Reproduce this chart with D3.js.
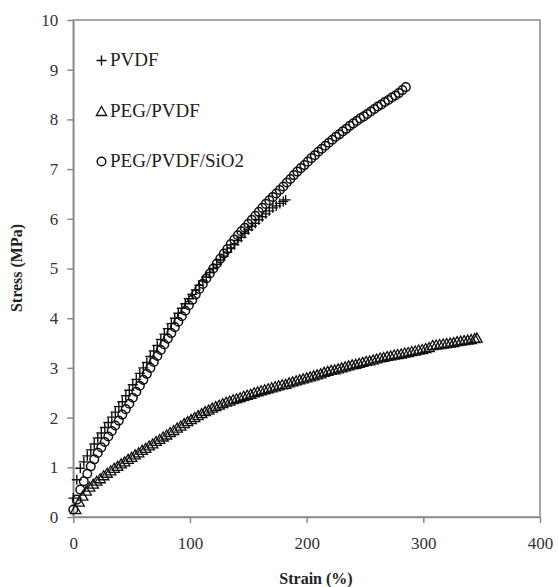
<!DOCTYPE html>
<html><head><meta charset="utf-8">
<script src="https://cdn.jsdelivr.net/npm/d3@7"></script>
<style>body{margin:0;background:#fff}svg{display:block}</style>
</head><body><svg id="c" width="558" height="587"></svg>
<script>
const xTicks=[0,100,200,300,400];
const yTicks=[0,1,2,3,4,5,6,7,8,9,10];
const seriesNames=["PVDF","PEG/PVDF","PEG/PVDF/SiO2"];
const pvdf=[[0,0.38],[3,0.75],[6,0.98],[9,1.11],[12,1.23],[15,1.35],[18,1.47],[21,1.59],[24,1.69],[27,1.80],[30,1.90],[33,2.01],[36,2.11],[39,2.22],[42,2.32],[45,2.44],[48,2.55],[51,2.66],[54,2.77],[57,2.89],[60,3.00],[63,3.11],[66,3.23],[69,3.34],[72,3.45],[75,3.57],[78,3.68],[81,3.79],[84,3.89],[87,4.00],[90,4.10],[93,4.20],[96,4.29],[99,4.39],[102,4.48],[105,4.57],[108,4.66],[111,4.75],[114,4.83],[117,4.92],[120,5.00],[123,5.08],[126,5.17],[129,5.25],[132,5.33],[135,5.41],[138,5.48],[141,5.56],[144,5.63],[147,5.71],[150,5.78],[153,5.85],[156,5.91],[159,5.98],[162,6.04],[165,6.10],[168,6.16],[171,6.22],[174,6.26],[177,6.31],[180,6.35],[182,6.38]];
const pegPvdf=[[2,0.15],[5,0.30],[8,0.42],[11,0.52],[14,0.60],[17,0.66],[20,0.72],[23,0.77],[26,0.83],[29,0.88],[32,0.93],[35,0.98],[38,1.02],[41,1.07],[44,1.11],[47,1.16],[50,1.20],[53,1.25],[56,1.29],[59,1.34],[62,1.38],[65,1.43],[68,1.47],[71,1.52],[74,1.56],[77,1.61],[80,1.65],[83,1.70],[86,1.74],[89,1.79],[92,1.83],[95,1.88],[98,1.92],[101,1.96],[104,2.00],[107,2.04],[110,2.08],[113,2.12],[116,2.15],[119,2.19],[122,2.22],[125,2.25],[128,2.28],[131,2.31],[134,2.33],[137,2.36],[140,2.38],[143,2.40],[146,2.43],[149,2.45],[152,2.47],[155,2.50],[158,2.52],[161,2.54],[164,2.56],[167,2.58],[170,2.60],[173,2.62],[176,2.64],[179,2.66],[182,2.67],[185,2.70],[188,2.72],[191,2.74],[194,2.76],[197,2.78],[200,2.80],[203,2.82],[206,2.84],[209,2.86],[212,2.88],[215,2.91],[218,2.93],[221,2.95],[224,2.96],[227,2.98],[230,3.00],[233,3.02],[236,3.04],[239,3.06],[242,3.07],[245,3.09],[248,3.11],[251,3.13],[254,3.14],[257,3.16],[260,3.18],[263,3.20],[266,3.21],[269,3.23],[272,3.24],[275,3.26],[278,3.27],[281,3.28],[284,3.30],[287,3.31],[290,3.33],[293,3.34],[296,3.36],[299,3.37],[302,3.39],[305,3.41],[308,3.45],[311,3.46],[314,3.47],[317,3.48],[320,3.49],[323,3.50],[326,3.51],[329,3.53],[332,3.54],[335,3.55],[338,3.56],[341,3.57],[344,3.59],[346,3.60]];
const pegPvdfSio2=[[0,0.15],[3,0.35],[6,0.55],[9,0.72],[12,0.87],[15,1.02],[18,1.16],[21,1.29],[24,1.40],[27,1.51],[30,1.62],[33,1.73],[36,1.84],[39,1.94],[42,2.06],[45,2.17],[48,2.28],[51,2.40],[54,2.52],[57,2.64],[60,2.76],[63,2.88],[66,3.00],[69,3.12],[72,3.24],[75,3.36],[78,3.47],[81,3.59],[84,3.70],[87,3.82],[90,3.93],[93,4.04],[96,4.15],[99,4.26],[102,4.37],[105,4.48],[108,4.59],[111,4.69],[114,4.80],[117,4.90],[120,5.00],[123,5.10],[126,5.20],[129,5.30],[132,5.39],[135,5.49],[138,5.58],[141,5.67],[144,5.75],[147,5.82],[150,5.90],[153,5.98],[156,6.06],[159,6.14],[162,6.22],[165,6.30],[168,6.37],[171,6.44],[174,6.51],[177,6.58],[180,6.65],[183,6.73],[186,6.80],[189,6.88],[192,6.95],[195,7.02],[198,7.08],[201,7.15],[204,7.22],[207,7.28],[210,7.35],[213,7.41],[216,7.47],[219,7.53],[222,7.59],[225,7.65],[228,7.70],[231,7.76],[234,7.81],[237,7.87],[240,7.92],[243,7.97],[246,8.02],[249,8.06],[252,8.11],[255,8.16],[258,8.21],[261,8.26],[264,8.30],[267,8.35],[270,8.39],[273,8.44],[276,8.48],[279,8.53],[282,8.59],[285,8.65]];

const svg=d3.select("#c");
const L=73.3,R=540,T=20,B=517;
const x=d3.scaleLinear().domain([0,400]).range([L,R]);
const y=d3.scaleLinear().domain([0,10]).range([B,T]);
const axisCol="#8a8a8a", font="'Liberation Serif','Times New Roman',serif";

svg.append("rect").attr("x",L).attr("y",T).attr("width",R-L).attr("height",B-T)
  .attr("fill","none").attr("stroke",axisCol).attr("stroke-width",1.5);

const gx=svg.append("g").attr("transform",`translate(0,${B})`)
  .call(d3.axisBottom(x).tickValues(xTicks).tickSize(6).tickPadding(14).tickSizeOuter(0));
const gy=svg.append("g").attr("transform",`translate(${L},0)`)
  .call(d3.axisLeft(y).tickValues(yTicks).tickSize(6).tickPadding(9).tickSizeOuter(0));
[gx,gy].forEach(g=>{
  g.select(".domain").attr("stroke",axisCol).attr("stroke-width",1.5);
  g.selectAll(".tick line").attr("stroke",axisCol).attr("stroke-width",1.5);
  g.selectAll(".tick text").attr("fill","#333").style("font-family",font).style("font-size","17px");
});

svg.append("text").attr("x",316).attr("y",584).attr("text-anchor","middle")
  .style("font-family",font).style("font-size","16px").style("font-weight","bold").attr("fill","#222").text("Strain (%)");
svg.append("text").attr("transform","translate(22,268) rotate(-90)").attr("text-anchor","middle")
  .style("font-family",font).style("font-size","16px").style("font-weight","bold").attr("fill","#222").text("Stress (MPa)");

const stroke="#111";
function plus(g,cx,cy,s){s=s||5;g.append("path").attr("d",`M${cx-s},${cy}H${cx+s}M${cx},${cy-s}V${cy+s}`).attr("stroke",stroke).attr("stroke-width",1.4).attr("fill","none");}
function tri(g,cx,cy){g.append("path").attr("d",`M${cx},${cy-5}L${cx+5.2},${cy+4}L${cx-5.2},${cy+4}Z`).attr("stroke",stroke).attr("stroke-width",1.3).attr("fill","none");}
function circ(g,cx,cy){g.append("circle").attr("cx",cx).attr("cy",cy).attr("r",4.3).attr("stroke",stroke).attr("stroke-width",1.5).attr("fill","none");}

const gm=svg.append("g");
pvdf.forEach(d=>plus(gm,x(d[0]),y(d[1])));
pegPvdf.forEach(d=>tri(gm,x(d[0]),y(d[1])));
pegPvdfSio2.forEach(d=>circ(gm,x(d[0]),y(d[1])));

const lg=svg.append("g");
const rows=[66,117,167];
const marks=[plus,tri,circ];
seriesNames.forEach((n,i)=>{
  marks[i](lg,101.5,rows[i]-5.5);
  lg.append("text").attr("x",110).attr("y",rows[i]).style("font-family",font).style("font-size","19px").attr("fill","#222").text(n);
});
</script></body></html>
